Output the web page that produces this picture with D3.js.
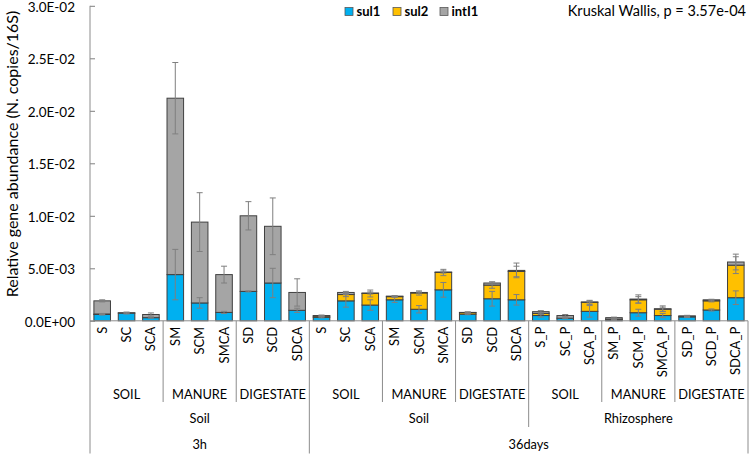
<!DOCTYPE html>
<html>
<head>
<meta charset="utf-8">
<script src="https://cdn.jsdelivr.net/npm/d3@7/dist/d3.min.js"></script>
<style>
  html, body { margin: 0; padding: 0; background: #fff; }
  svg { display: block; font-family: Lato, "Open Sans", sans-serif; }
</style>
</head>
<body>
<svg id="chart" width="749" height="454"></svg>
<script>
// ---------------- DATA ----------------
const categories = ["S","SC","SCA","SM","SCM","SMCA","SD","SCD","SDCA",
                    "S","SC","SCA","SM","SCM","SMCA","SD","SCD","SDCA",
                    "S_P","SC_P","SCA_P","SM_P","SCM_P","SMCA_P","SD_P","SCD_P","SDCA_P"];
const level1 = ["SOIL","MANURE","DIGESTATE","SOIL","MANURE","DIGESTATE","SOIL","MANURE","DIGESTATE"];
const level2 = ["Soil","Soil","Rhizosphere"];
const level3 = ["3h","36days"];
const level3Sizes = [9, 18];

const seriesNames = ["sul1","sul2","intI1"];
// values in copies/16S
const sul1 = [0.60e-3,0.73e-3,0.30e-3,4.40e-3,1.70e-3,0.80e-3,2.80e-3,3.60e-3,1.00e-3,
              0.33e-3,1.90e-3,1.50e-3,2.00e-3,1.10e-3,2.95e-3,0.63e-3,2.10e-3,2.00e-3,
              0.50e-3,0.25e-3,0.90e-3,0.10e-3,0.77e-3,0.50e-3,0.37e-3,1.03e-3,2.20e-3];
const sul2 = [0.05e-3,0,0,0,0,0,0,0,0,
              0.12e-3,0.60e-3,1.10e-3,0.30e-3,1.55e-3,1.65e-3,0.15e-3,1.30e-3,2.70e-3,
              0.20e-3,0,0.85e-3,0.05e-3,1.23e-3,0.60e-3,0.05e-3,0.87e-3,3.10e-3];
const intI1 = [1.25e-3,0.04e-3,0.30e-3,16.8e-3,7.70e-3,3.60e-3,7.20e-3,5.40e-3,1.70e-3,
               0.05e-3,0.20e-3,0.05e-3,0.05e-3,0.05e-3,0.05e-3,0.02e-3,0.20e-3,0.10e-3,
               0.17e-3,0.25e-3,0.05e-3,0.15e-3,0.07e-3,0.05e-3,0.05e-3,0.10e-3,0.30e-3];
// error (+/-) drawn at the top of each stacked segment
const sul1Err = [0.05e-3,0.08e-3,0.05e-3,2.4e-3,0.5e-3,0.1e-3,0.05e-3,1.4e-3,0.2e-3,
                 0.05e-3,0.6e-3,0.5e-3,0.25e-3,0.35e-3,0.7e-3,0.05e-3,0.7e-3,0.5e-3,
                 0.15e-3,0.05e-3,0.55e-3,0.05e-3,0.33e-3,0.2e-3,0.05e-3,0.1e-3,0.65e-3];
const sul2Err = [0.05e-3,0,0,0,0,0,0,0,0,
                 0.05e-3,0.2e-3,0.33e-3,0.05e-3,0.2e-3,0.3e-3,0.05e-3,0.3e-3,0.5e-3,
                 0.1e-3,0,0.2e-3,0.05e-3,0.3e-3,0.2e-3,0.05e-3,0.1e-3,0.8e-3];
const intI1Err = [0.1e-3,0.05e-3,0.15e-3,3.4e-3,2.8e-3,0.8e-3,1.35e-3,2.7e-3,1.3e-3,
                  0.05e-3,0.1e-3,0.1e-3,0.05e-3,0.05e-3,0.1e-3,0.05e-3,0.1e-3,0.7e-3,
                  0.1e-3,0.1e-3,0.1e-3,0.05e-3,0.4e-3,0.27e-3,0.05e-3,0.05e-3,0.75e-3];
const yTicks = [0, 0.005, 0.01, 0.015, 0.02, 0.025, 0.03];
const colors = ["#00B0F0", "#FFC000", "#A5A5A5"];
const statText = "Kruskal Wallis, p = 3.57e-04";
const yTitle = "Relative gene abundance  (N. copies/16S)";

// ---------------- LAYOUT ----------------
const svg = d3.select("#chart");
const plotLeft = 90, plotRight = 748, plotTop = 5.8, base = 320.8;
const x = d3.scaleBand().domain(d3.range(categories.length)).range([plotLeft, plotRight])
  .paddingInner(0.32).paddingOuter(0.16);
const step = x.step();
const y = d3.scaleLinear().domain([0, 0.03]).range([base, plotTop]);

function sci(v) {
  if (v === 0) return "0.0E+00";
  const e = Math.floor(Math.log10(v) + 1e-9);
  const m = v / Math.pow(10, e);
  return m.toFixed(1) + "E" + (e < 0 ? "-" : "+") + String(Math.abs(e)).padStart(2, "0");
}

// stacked data
const rows = categories.map((c, i) => ({ i, sul1: sul1[i], sul2: sul2[i], intI1: intI1[i] }));
const stack = d3.stack().keys(seriesNames)(rows);
const errs = [sul1Err, sul2Err, intI1Err];

// bars
stack.forEach((layer, k) => {
  svg.append("g").selectAll("rect").data(layer).join("rect")
    .attr("x", d => x(d.data.i))
    .attr("width", x.bandwidth())
    .attr("y", d => y(d[1]))
    .attr("height", d => Math.max(0, y(d[0]) - y(d[1])))
    .attr("fill", colors[k])
    .attr("stroke", d => (d[1] - d[0]) > 0 ? "#404040" : "none")
    .attr("stroke-width", 1);
});

// error bars
stack.forEach((layer, k) => {
  const g = svg.append("g").attr("stroke", "#7F7F7F").attr("stroke-width", 1);
  layer.forEach(d => {
    const e = errs[k][d.data.i];
    if (!(d[1] - d[0] > 0) || !e) return;
    const cx = x(d.data.i) + x.bandwidth() / 2;
    const y1 = y(d[1] + e), y2 = y(Math.max(0, d[1] - e));
    g.append("line").attr("x1", cx).attr("x2", cx).attr("y1", y1).attr("y2", y2);
    g.append("line").attr("x1", cx - 3).attr("x2", cx + 3).attr("y1", y1).attr("y2", y1);
    g.append("line").attr("x1", cx - 3).attr("x2", cx + 3).attr("y1", y2).attr("y2", y2);
  });
});

// y axis
const yAxis = d3.axisLeft(y).tickValues(yTicks).tickFormat(sci).tickSizeInner(-5).tickSizeOuter(0).tickPadding(15);
const yg = svg.append("g").attr("transform", `translate(${plotLeft},0)`).call(yAxis);
yg.select(".domain").remove();
yg.selectAll(".tick line").attr("stroke", "#7F7F7F");
yg.selectAll(".tick text").attr("font-size", 13.5).attr("fill", "#000").attr("dy", "0.4em")
  .attr("font-family", "Lato, 'Open Sans', sans-serif");

const axisColor = "#8C8C8C";
svg.append("line").attr("x1", plotLeft).attr("x2", plotLeft).attr("y1", plotTop).attr("y2", 453.5)
  .attr("stroke", axisColor).attr("stroke-width", 1);
svg.append("line").attr("x1", plotLeft).attr("x2", plotRight).attr("y1", base).attr("y2", base)
  .attr("stroke", axisColor).attr("stroke-width", 1);

// category labels
svg.append("g").selectAll("text").data(categories).join("text")
  .attr("transform", (d, i) => `translate(${x(i) + x.bandwidth() / 2 + 4.5},${base + 6}) rotate(-90)`)
  .attr("text-anchor", "end")
  .attr("font-size", 13)
  .attr("fill", "#000")
  .text(d => d);

// separators
const lvl1Bottom = 402, lvl2Bottom = 427, lvl3Bottom = 453.5;
for (let b = 3; b <= categories.length; b += 3) {
  let yb = lvl1Bottom;
  if (b === 18) yb = lvl2Bottom;
  if (b === 9 || b === 27) yb = lvl3Bottom;
  const xb = b === 27 ? plotRight : x(b) - step * 0.32 / 2;
  svg.append("line").attr("x1", xb).attr("x2", xb).attr("y1", base).attr("y2", yb)
    .attr("stroke", axisColor).attr("stroke-width", 1);
}

const lvlFont = 12.8;
// level 1 labels
level1.forEach((lab, j) => {
  const cx = (x(j * 3) + x(j * 3 + 2) + x.bandwidth()) / 2;
  svg.append("text").attr("x", cx).attr("y", 398.5).attr("text-anchor", "middle")
    .attr("font-size", lvlFont).attr("fill", "#000").text(lab);
});
// level 2 labels
level2.forEach((lab, j) => {
  const cx = (x(j * 9) + x(j * 9 + 8) + x.bandwidth()) / 2;
  svg.append("text").attr("x", cx).attr("y", 423).attr("text-anchor", "middle")
    .attr("font-size", lvlFont).attr("fill", "#000").text(lab);
});
// level 3 labels
let startIdx = 0;
level3.forEach((lab, j) => {
  const n = level3Sizes[j];
  const cx = (x(startIdx) + x(startIdx + n - 1) + x.bandwidth()) / 2;
  svg.append("text").attr("x", cx).attr("y", 448.5).attr("text-anchor", "middle")
    .attr("font-size", lvlFont).attr("fill", "#000").text(lab);
  startIdx += n;
});

// y title
svg.append("text").attr("transform", `translate(18,154) rotate(-90)`)
  .attr("text-anchor", "middle").attr("font-size", 16).attr("fill", "#000")
  .text(yTitle);

// legend
const legendX = [345, 393, 440];
const legend = svg.append("g");
seriesNames.forEach((s, k) => {
  legend.append("rect").attr("x", legendX[k]).attr("y", 7.5).attr("width", 8).attr("height", 8)
    .attr("fill", colors[k]).attr("stroke", "#595959").attr("stroke-width", 0.8);
  legend.append("text").attr("x", legendX[k] + 11.5).attr("y", 16).attr("font-size", 13)
    .attr("font-weight", "bold").attr("fill", "#000").text(s);
});

// stat annotation
svg.append("text").attr("x", 746).attr("y", 16).attr("text-anchor", "end")
  .attr("font-size", 14.5).attr("fill", "#000").text(statText);
</script>
</body>
</html>
